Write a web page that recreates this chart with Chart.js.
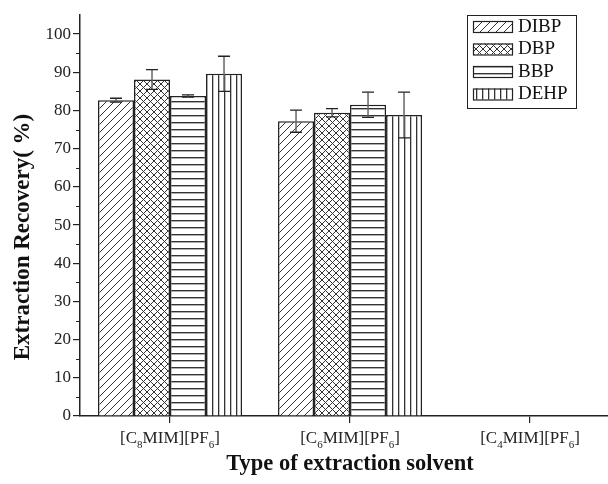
<!DOCTYPE html>
<html><head><meta charset="utf-8">
<script src="https://cdn.jsdelivr.net/npm/chart.js@4.4.0/dist/chart.umd.min.js"></script>
<style>html,body{margin:0;padding:0;background:#fff}</style>
</head><body>
<canvas id="c" width="608" height="484" style="width:608px;height:484px;display:block"></canvas>
<script>
// ---- data ----
const categories = ['[C8MIM][PF6]', '[C6MIM][PF6]', '[C4MIM][PF6]'];
const categoryPos = [1, 2, 3];
const seriesNames = ['DIBP', 'DBP', 'BBP', 'DEHP'];
const dibp = [82.7, 77.2, null];
const dibpErr = [0.5, 2.9, null];
const dbp = [88.1, 79.4, null];
const dbpErr = [2.6, 1.1, null];
const bbp = [83.8, 81.5, null];
const bbpErr = [0.3, 3.3, null];
const dehp = [89.6, 78.8, null];
const dehpErr = [4.6, 6.0, null];
const yTicks = [0, 10, 20, 30, 40, 50, 60, 70, 80, 90, 100];
const yMinorTicks = [5, 15, 25, 35, 45, 55, 65, 75, 85, 95];
const yTitle = 'Extraction Recovery( %)';
const xTitle = 'Type of extraction solvent';

const FONT = "'Liberation Serif', 'Times New Roman', serif";
const ctx = document.getElementById('c').getContext('2d');

function makePattern(type) {
  const s = {diag: 8, cross: 7, horiz: 7, vert: 6}[type];
  const c = document.createElement('canvas');
  c.width = s; c.height = s;
  const g = c.getContext('2d');
  g.fillStyle = '#fff'; g.fillRect(0, 0, s, s);
  g.strokeStyle = '#333'; g.fillStyle = '#333'; g.lineWidth = 1;
  g.beginPath();
  if (type === 'diag' || type === 'cross') {
    g.moveTo(-1, s + 1); g.lineTo(s + 1, -1);
    g.moveTo(-1, 1); g.lineTo(1, -1);
    g.moveTo(s - 1, s + 1); g.lineTo(s + 1, s - 1);
  }
  if (type === 'cross') {
    g.moveTo(-1, -1); g.lineTo(s + 1, s + 1);
    g.moveTo(s - 1, -1); g.lineTo(s + 1, 1);
    g.moveTo(-1, s - 1); g.lineTo(1, s + 1);
  }
  g.stroke();
  if (type === 'horiz') g.fillRect(0, 3, s, 1.4);
  if (type === 'vert') g.fillRect(2, 0, 1.3, s);
  return ctx.createPattern(c, 'repeat');
}

const patterns = [makePattern('diag'), makePattern('cross'), makePattern('horiz'), makePattern('vert')];
const values = [dibp, dbp, bbp, dehp];
const errs = [dibpErr, dbpErr, bbpErr, dehpErr];

const datasets = seriesNames.map((name, i) => ({
  label: name,
  data: categoryPos.map((x, j) => ({x: x, y: values[i][j]})),
  errors: errs[i],
  backgroundColor: patterns[i],
  borderColor: '#222',
  borderWidth: 1.5,
  categoryPercentage: 0.8,
  barPercentage: 1.0
}));

const errorBars = {
  id: 'errorBars',
  afterDatasetsDraw(chart) {
    const c = chart.ctx, ys = chart.scales.y;
    chart.data.datasets.forEach((ds, di) => {
      const meta = chart.getDatasetMeta(di);
      ds.data.forEach((p, i) => {
        const e = ds.errors[i];
        if (p.y == null || e == null) return;
        const x = meta.data[i].x;
        const yt = ys.getPixelForValue(p.y + e), yb = ys.getPixelForValue(p.y - e);
        c.save();
        c.strokeStyle = '#666'; c.lineWidth = 1.5;
        c.beginPath(); c.moveTo(x, yt); c.lineTo(x, yb); c.stroke();
        c.strokeStyle = '#222'; c.lineWidth = 1.3;
        c.beginPath();
        c.moveTo(x - 6, yt); c.lineTo(x + 6, yt);
        c.moveTo(x - 6, yb); c.lineTo(x + 6, yb);
        c.stroke();
        c.restore();
      });
    });
  }
};

const extras = {
  id: 'extras',
  afterDraw(chart) {
    const c = chart.ctx, ys = chart.scales.y, xs = chart.scales.x;
    c.save();
    // minor y ticks
    c.strokeStyle = '#222'; c.lineWidth = 1;
    c.beginPath();
    yMinorTicks.forEach(v => {
      const y = Math.round(ys.getPixelForValue(v)) + 0.5;
      c.moveTo(xs.left - 4, y); c.lineTo(xs.left, y);
    });
    c.stroke();
    // x category labels with subscripts
    c.fillStyle = '#222'; c.textBaseline = 'alphabetic';
    categories.forEach((lab, i) => {
      const parts = lab.split(/(\d+)/).filter(s => s.length);
      const widths = parts.map(p => {
        c.font = /^\d+$/.test(p) ? '11px ' + FONT : '17px ' + FONT;
        return c.measureText(p).width;
      });
      const total = widths.reduce((a, b) => a + b, 0);
      let x = xs.getPixelForValue(categoryPos[i]) - total / 2;
      const base = 443;
      parts.forEach((p, k) => {
        const sub = /^\d+$/.test(p);
        c.font = sub ? '11px ' + FONT : '17px ' + FONT;
        c.fillText(p, x, sub ? base + 5 : base);
        x += widths[k];
      });
    });
    // axis titles
    c.fillStyle = '#111';
    c.textAlign = 'center';
    c.textBaseline = 'middle';
    c.font = 'bold 22.5px ' + FONT;
    c.fillText(xTitle, 350, 464);
    c.save();
    c.translate(23, 237);
    c.rotate(-Math.PI / 2);
    c.font = 'bold 23px ' + FONT;
    c.fillText(yTitle, 0, 0);
    c.restore();
    c.textAlign = 'left';
    // legend
    const lx = 467, ly = 15, lw = 109, lh = 93;
    c.fillStyle = '#fff'; c.fillRect(lx, ly, lw, lh);
    c.strokeStyle = '#222'; c.lineWidth = 1;
    c.strokeRect(lx + 0.5, ly + 0.5, lw, lh);
    chart.data.datasets.forEach((ds, i) => {
      const top = 21 + i * 22.5;
      c.fillStyle = ds.backgroundColor;
      c.fillRect(473, top, 40, 11);
      c.strokeStyle = '#222'; c.lineWidth = 1.2;
      c.strokeRect(473.5, top + 0.5, 39, 11);
      c.fillStyle = '#111';
      c.font = '19px ' + FONT;
      c.textBaseline = 'middle';
      c.fillText(ds.label, 518, top + 6);
    });
    c.restore();
  }
};

new Chart(ctx, {
  type: 'bar',
  data: {datasets: datasets},
  plugins: [errorBars, extras],
  options: {
    responsive: false,
    animation: false,
    devicePixelRatio: 1,
    layout: {padding: {top: 15, right: 0, left: 0, bottom: 0}},
    plugins: {legend: {display: false}, tooltip: {enabled: false}},
    scales: {
      x: {
        type: 'linear',
        offset: false,
        min: 0.5,
        max: 3.433,
        afterBuildTicks: s => { s.ticks = categoryPos.map(v => ({value: v})); },
        afterFit: s => { s.height = 68; },
        ticks: {display: false},
        grid: {drawOnChartArea: false, drawTicks: true, tickLength: 7, color: '#222', lineWidth: 1.2, offset: false},
        border: {display: true, color: '#222', width: 1.5},
        title: {display: false}
      },
      y: {
        min: 0,
        max: 105,
        afterBuildTicks: s => { s.ticks = yTicks.map(v => ({value: v})); },
        afterFit: s => { s.width = 80; },
        ticks: {color: '#222', padding: 2, font: {family: FONT, size: 17}},
        grid: {drawOnChartArea: false, drawTicks: true, tickLength: 7, color: '#222', lineWidth: 1.2},
        border: {display: true, color: '#222', width: 1.5},
        title: {display: false}
      }
    }
  }
});
</script>
</body></html>
